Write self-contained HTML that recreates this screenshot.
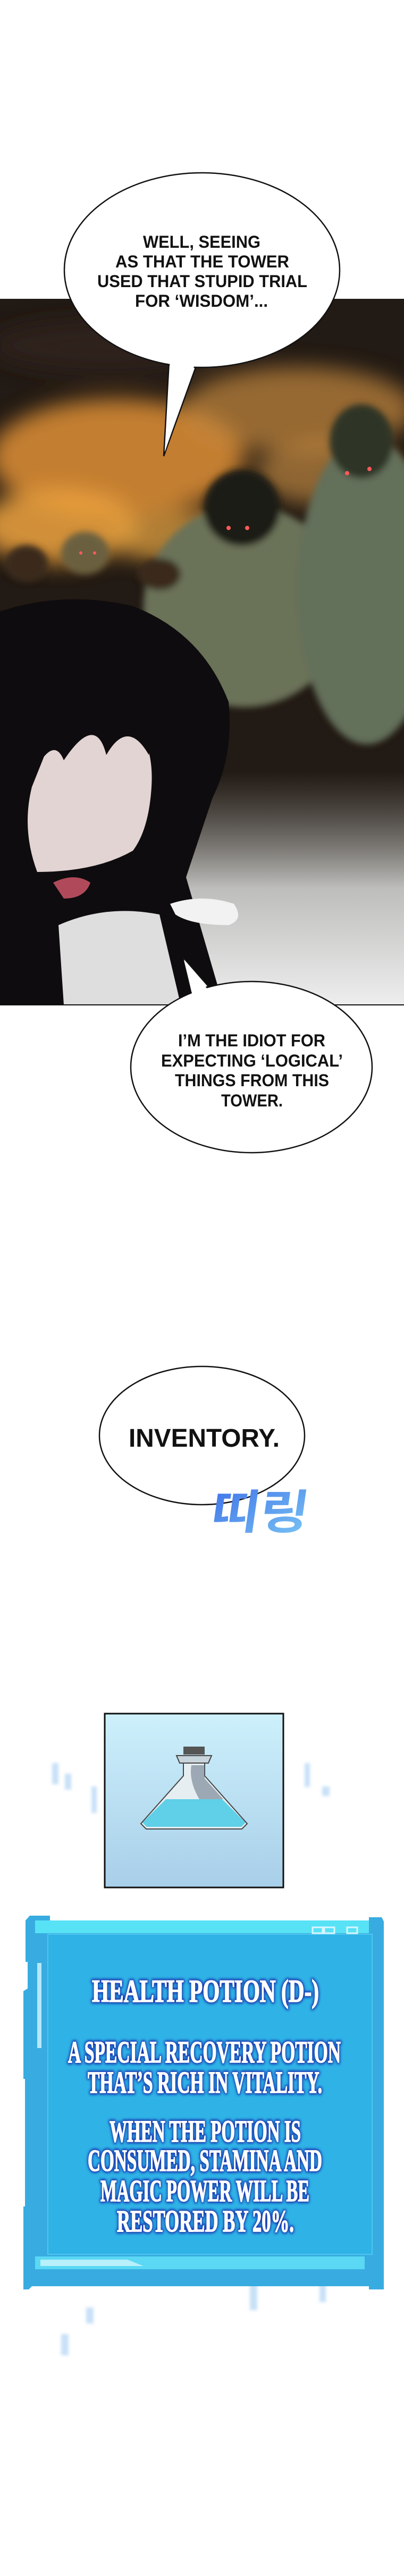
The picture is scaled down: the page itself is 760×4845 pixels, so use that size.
<!DOCTYPE html>
<html><head><meta charset="utf-8">
<style>
html,body{margin:0;padding:0;background:#fff;}
svg{display:block;}
.c{font-family:"Liberation Sans",sans-serif;font-weight:bold;fill:#111;}
.s{font-family:"Liberation Serif",serif;font-weight:bold;}
.sb{fill:#1838b0;stroke:#1838b0;stroke-width:7;stroke-linejoin:round;}
.sw{fill:#fff;stroke:#fff;stroke-width:1.6;}
</style></head><body>
<svg width="760" height="4845" viewBox="0 0 760 4845" xmlns="http://www.w3.org/2000/svg">
<defs>
<filter id="b20"><feGaussianBlur stdDeviation="20"/></filter>
<filter id="b8"><feGaussianBlur stdDeviation="6"/></filter>
<filter id="b3"><feGaussianBlur stdDeviation="3"/></filter>
<filter id="gl"><feGaussianBlur stdDeviation="2.5"/></filter>
<linearGradient id="fog" x1="0" y1="0" x2="0" y2="1">
<stop offset="0" stop-color="#8a8a82" stop-opacity="0"/><stop offset="0.5" stop-color="#bdbdbb"/><stop offset="1" stop-color="#eeeeee"/></linearGradient>
<linearGradient id="pot" x1="0" y1="0" x2="0" y2="1"><stop offset="0" stop-color="#cdf0fb"/><stop offset="1" stop-color="#a8cfe9"/></linearGradient>
<linearGradient id="sfx" x1="0" y1="0" x2="1" y2="1"><stop offset="0" stop-color="#3a6be8"/><stop offset="1" stop-color="#7cc8f4"/></linearGradient>
<clipPath id="pc"><rect x="0" y="562" width="760" height="1328"/></clipPath>
</defs>

<g clip-path="url(#pc)">
<rect x="0" y="562" width="760" height="1328" fill="#221a14"/>
<g filter="url(#b20)">
<ellipse cx="220" cy="860" rx="240" ry="110" fill="#e09036" opacity="0.85"/>
<ellipse cx="560" cy="770" rx="220" ry="80" fill="#c88a40" opacity="0.7"/>
<ellipse cx="110" cy="990" rx="150" ry="70" fill="#f0a440" opacity="0.85"/>
<ellipse cx="330" cy="1010" rx="120" ry="50" fill="#e0a040" opacity="0.75"/>
<ellipse cx="620" cy="890" rx="140" ry="60" fill="#d89a48" opacity="0.6"/>
<ellipse cx="200" cy="650" rx="220" ry="50" fill="#2e241e"/>
</g>
<g filter="url(#b8)">
<ellipse cx="460" cy="1140" rx="190" ry="190" fill="#6a7258"/>
<ellipse cx="690" cy="1110" rx="130" ry="290" fill="#64705a"/>
<ellipse cx="455" cy="955" rx="72" ry="72" fill="#1e1a12"/>
<ellipse cx="680" cy="830" rx="60" ry="70" fill="#2e3428"/>
<ellipse cx="160" cy="1040" rx="45" ry="40" fill="#6a6040"/>
<ellipse cx="50" cy="1060" rx="40" ry="35" fill="#3a2a1a"/>
<ellipse cx="300" cy="1080" rx="40" ry="30" fill="#3a2a1a"/>
</g>
<g fill="#ff5a5a"><circle cx="430" cy="993" r="4"/><circle cx="465" cy="993" r="4"/><circle cx="653" cy="890" r="4"/><circle cx="695" cy="882" r="4"/><circle cx="152" cy="1040" r="3"/><circle cx="178" cy="1040" r="3"/></g>
<rect x="0" y="1450" width="760" height="440" fill="url(#fog)"/>
<path d="M0 1150 Q120 1110 250 1140 Q380 1190 430 1320 Q440 1420 400 1500 L350 1650 L420 1890 L0 1890 Z" fill="#0e0c0e"/>
<path d="M100 1380 Q170 1330 250 1360 Q290 1400 285 1480 Q280 1560 250 1600 Q180 1640 70 1640 Q40 1560 60 1480 Z" fill="#e2d4d2"/>
<path d="M40 1160 Q200 1150 300 1270 L280 1420 Q240 1350 200 1420 Q180 1340 120 1430 Q100 1380 60 1460 Z" fill="#0e0c0e"/>
<path d="M100 1660 Q140 1640 170 1660 Q160 1690 120 1690 Z" fill="#b04a5a"/>
<path d="M110 1740 Q200 1700 300 1720 L340 1890 L120 1890 Z" fill="#dedede"/>
<path d="M320 1700 Q380 1680 440 1700 Q460 1730 430 1740 Q360 1740 330 1720Z" fill="#f2f2f2"/>
</g>
<line x1="0" y1="1890" x2="760" y2="1890" stroke="#111" stroke-width="2"/>

<polygon points="318,680 372,680 308,858" fill="#fff" stroke="#111" stroke-width="2.5"/>
<ellipse cx="380" cy="508" rx="259" ry="183" fill="#fff" stroke="#111" stroke-width="2.5"/>
<polygon points="320,675 370,675 310,850" fill="#fff"/>
<g class="c" font-size="32">
<text x="269" y="466" textLength="221" lengthAdjust="spacingAndGlyphs">WELL, SEEING</text>
<text x="217" y="503" textLength="327" lengthAdjust="spacingAndGlyphs">AS THAT THE TOWER</text>
<text x="183" y="540" textLength="395" lengthAdjust="spacingAndGlyphs">USED THAT STUPID TRIAL</text>
<text x="254" y="577" textLength="250" lengthAdjust="spacingAndGlyphs">FOR ‘WISDOM’...</text>
</g>

<polygon points="360,1870 392,1855 344,1800" fill="#fff" stroke="#111" stroke-width="2.5"/>
<ellipse cx="473" cy="2007" rx="227" ry="161" fill="#fff" stroke="#111" stroke-width="2.5"/>
<polygon points="362,1872 390,1860 346,1806" fill="#fff"/>
<g class="c" font-size="32">
<text x="335" y="1968" textLength="277" lengthAdjust="spacingAndGlyphs">I’M THE IDIOT FOR</text>
<text x="303" y="2006" textLength="342" lengthAdjust="spacingAndGlyphs">EXPECTING ‘LOGICAL’</text>
<text x="329" y="2043" textLength="290" lengthAdjust="spacingAndGlyphs">THINGS FROM THIS</text>
<text x="416" y="2081" textLength="116" lengthAdjust="spacingAndGlyphs">TOWER.</text>
</g>

<ellipse cx="380" cy="2700" rx="193" ry="130" fill="#fff" stroke="#111" stroke-width="2.5"/>
<text class="c" x="242" y="2721" font-size="48" textLength="284" lengthAdjust="spacingAndGlyphs">INVENTORY.</text>
<text x="407" y="2875" font-family="'Noto Sans CJK KR',sans-serif" font-size="88" font-weight="bold" fill="url(#sfx)" textLength="184" lengthAdjust="spacingAndGlyphs" transform="skewX(-8) translate(390,0)">띠링</text>

<rect x="197" y="3223" width="336" height="327" fill="url(#pot)" stroke="#111" stroke-width="3"/>
<path d="M345 3285 L385 3285 L385 3300 L345 3300Z" fill="#555"/>
<path d="M332 3302 L398 3302 L392 3316 L338 3316Z" fill="#c8d4dc" stroke="#444" stroke-width="2"/>
<path d="M345 3316 L385 3316 L385 3340 L465 3430 L455 3440 L275 3440 L265 3430 L345 3340Z" fill="#e6eef2" stroke="#444" stroke-width="2"/>
<path d="M312 3384 L418 3384 L462 3428 L454 3436 L276 3436 L268 3428Z" fill="#5fd0e8"/>
<path d="M360 3320 L385 3320 L385 3345 L420 3384 L375 3384 Q355 3350 360 3320Z" fill="#6a7a88" opacity="0.6"/>

<g fill="#9cc8f2" opacity="0.55" filter="url(#b3)">
<rect x="98" y="3316" width="12" height="40"/><rect x="122" y="3336" width="12" height="30"/><rect x="172" y="3360" width="10" height="50"/>
<rect x="573" y="3316" width="10" height="45"/><rect x="606" y="3360" width="14" height="18"/>
<rect x="470" y="4265" width="14" height="80"/><rect x="573" y="4260" width="12" height="30"/><rect x="601" y="4280" width="12" height="50"/>
<rect x="162" y="4340" width="14" height="30"/><rect x="115" y="4390" width="14" height="40"/><rect x="520" y="4215" width="12" height="20"/>
</g>

<path d="M48 3612 L56 3603 L94 3603 L94 3612 L694 3612 L694 3606 L718 3606 L722 3614 L722 4306 L694 4306 L694 4300 L60 4300 L54 4306 L44 4306 L44 4150 L47 4150 L47 3910 L44 3910 L44 3745 L52 3740 L52 3690 L48 3690 Z" fill="#38ace0"/>
<rect x="66" y="3612" width="628" height="24" fill="#58e2f6"/>
<rect x="90" y="3638" width="610" height="602" fill="#2fb2e6"/>
<rect x="90" y="3638" width="610" height="602" fill="none" stroke="#4ec6ee" stroke-width="2"/>
<rect x="66" y="4244" width="620" height="24" fill="#5ad8f4"/>
<path d="M76 4250 L240 4250 L270 4262 L76 4262Z" fill="#b8f0fb"/>
<g fill="none" stroke="#d8f6ff" stroke-width="3"><rect x="588" y="3625" width="19" height="11"/><rect x="610" y="3625" width="19" height="11"/><rect x="653" y="3625" width="19" height="11"/></g>
<g fill="#b6e8f8"><rect x="70" y="3692" width="8" height="160"/></g>
<g class="s sb" filter="url(#gl)">
<text x="173" y="3765" font-size="60" textLength="427" lengthAdjust="spacingAndGlyphs">HEALTH POTION (D-)</text>
<text x="128" y="3879" font-size="58" textLength="513" lengthAdjust="spacingAndGlyphs">A SPECIAL RECOVERY POTION</text>
<text x="165" y="3936" font-size="58" textLength="441" lengthAdjust="spacingAndGlyphs">THAT’S RICH IN VITALITY.</text>
<text x="206" y="4028" font-size="58" textLength="360" lengthAdjust="spacingAndGlyphs">WHEN THE POTION IS</text>
<text x="165" y="4083" font-size="58" textLength="441" lengthAdjust="spacingAndGlyphs">CONSUMED, STAMINA AND</text>
<text x="189" y="4140" font-size="58" textLength="393" lengthAdjust="spacingAndGlyphs">MAGIC POWER WILL BE</text>
<text x="220" y="4197" font-size="58" textLength="333" lengthAdjust="spacingAndGlyphs">RESTORED BY 20%.</text>
</g>
<g class="s sw">
<text x="173" y="3765" font-size="60" textLength="427" lengthAdjust="spacingAndGlyphs">HEALTH POTION (D-)</text>
<text x="128" y="3879" font-size="58" textLength="513" lengthAdjust="spacingAndGlyphs">A SPECIAL RECOVERY POTION</text>
<text x="165" y="3936" font-size="58" textLength="441" lengthAdjust="spacingAndGlyphs">THAT’S RICH IN VITALITY.</text>
<text x="206" y="4028" font-size="58" textLength="360" lengthAdjust="spacingAndGlyphs">WHEN THE POTION IS</text>
<text x="165" y="4083" font-size="58" textLength="441" lengthAdjust="spacingAndGlyphs">CONSUMED, STAMINA AND</text>
<text x="189" y="4140" font-size="58" textLength="393" lengthAdjust="spacingAndGlyphs">MAGIC POWER WILL BE</text>
<text x="220" y="4197" font-size="58" textLength="333" lengthAdjust="spacingAndGlyphs">RESTORED BY 20%.</text>
</g>
</svg>
</body></html>
